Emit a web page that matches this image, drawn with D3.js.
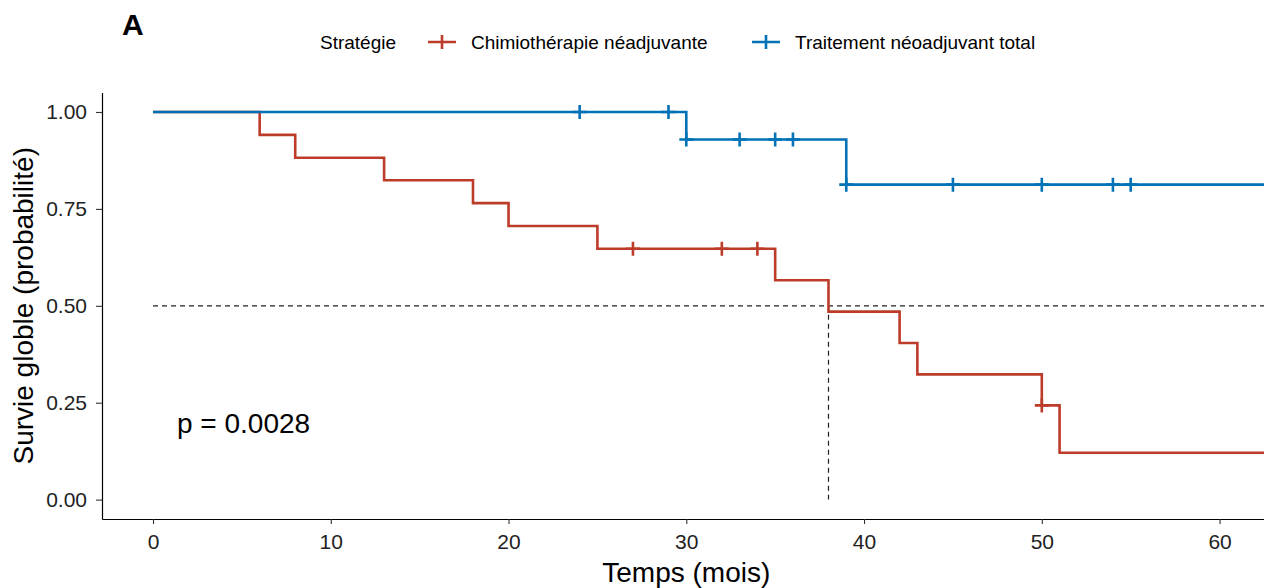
<!DOCTYPE html>
<html>
<head>
<meta charset="utf-8">
<script src="https://cdn.jsdelivr.net/npm/d3@7"></script>
<style>
  body { margin: 0; background: #fff; }
  svg { font-family: "Liberation Sans", Arial, sans-serif; }
</style>
</head>
<body>
<svg id="viz" width="1264" height="588"></svg>
<script>
// Kaplan-Meier steps
var chimioTime = [0, 6, 8, 13, 18, 20, 25, 35, 38, 42, 43, 50, 51, 64];
var chimioSurv = [1, 0.941, 0.882, 0.824, 0.765, 0.706, 0.647, 0.566, 0.485, 0.404, 0.323, 0.243, 0.121, 0.121];
var chimioCensTime = [27, 32, 34, 50];
var chimioCensSurv = [0.647, 0.647, 0.647, 0.243];

var totalTime = [0, 30, 39, 64];
var totalSurv = [1, 0.929, 0.8125, 0.8125];
var totalCensTime = [24, 29, 30, 33, 35, 36, 39, 45, 50, 54, 55];
var totalCensSurv = [1, 1, 0.929, 0.929, 0.929, 0.929, 0.8125, 0.8125, 0.8125, 0.8125, 0.8125];

var groups = ["Chimiothérapie néadjuvante", "Traitement néoadjuvant total"];
var colors = ["#BC3C29", "#0072B5"];
var xTicks = [0, 10, 20, 30, 40, 50, 60];
var yTicks = [0, 0.25, 0.5, 0.75, 1];
var medianTime = 38;
var pText = "p = 0.0028";

var svg = d3.select("#viz");

var x = d3.scaleLinear().domain([-2.87, 62.5]).range([102, 1264]);
var y = d3.scaleLinear().domain([-0.05, 1.05]).range([519, 92.6]);

// axes
var xAxis = svg.append("g")
    .attr("transform", "translate(0,519)")
    .call(d3.axisBottom(x).tickValues(xTicks).tickSize(5).tickPadding(10).tickSizeOuter(0));
var yAxis = svg.append("g")
    .attr("transform", "translate(102,0)")
    .call(d3.axisLeft(y).tickValues(yTicks).tickFormat(d3.format(".2f")).tickSize(6).tickPadding(9).tickSizeOuter(0));

[xAxis, yAxis].forEach(function(a) {
    a.select(".domain").attr("stroke", "#000").attr("stroke-width", 1.2);
    a.selectAll(".tick line").attr("stroke", "#333").attr("stroke-width", 1.1);
    a.selectAll(".tick text").attr("fill", "#222").style("font-size", "21px")
        .style("font-family", "Liberation Sans, Arial, sans-serif");
});

// median lines
svg.append("line")
    .attr("x1", x(0)).attr("x2", 1264)
    .attr("y1", y(0.5)).attr("y2", y(0.5))
    .attr("stroke", "#222").attr("stroke-width", 1.2).attr("stroke-dasharray", "5,4");
svg.append("line")
    .attr("x1", x(medianTime)).attr("x2", x(medianTime))
    .attr("y1", y(0.5)).attr("y2", y(0))
    .attr("stroke", "#222").attr("stroke-width", 1.2).attr("stroke-dasharray", "5,4");

// curves
var line = d3.line().curve(d3.curveStepAfter)
    .x(function(d) { return x(d[0]); })
    .y(function(d) { return y(d[1]); });

svg.append("clipPath").attr("id", "clip")
    .append("rect").attr("x", 102).attr("y", 80).attr("width", 1162).attr("height", 440);

var plot = svg.append("g").attr("clip-path", "url(#clip)");

var series = [
    { time: chimioTime, surv: chimioSurv, cT: chimioCensTime, cS: chimioCensSurv, color: colors[0] },
    { time: totalTime, surv: totalSurv, cT: totalCensTime, cS: totalCensSurv, color: colors[1] }
];

series.forEach(function(s) {
    var pts = s.time.map(function(t, i) { return [t, s.surv[i]]; });
    plot.append("path")
        .attr("d", line(pts))
        .attr("fill", "none")
        .attr("stroke", s.color)
        .attr("stroke-width", 2.6);
    s.cT.forEach(function(t, i) {
        var cx = x(t), cy = y(s.cS[i]);
        plot.append("path")
            .attr("d", "M" + (cx - 7) + "," + cy + "H" + (cx + 7) + "M" + cx + "," + (cy - 7) + "V" + (cy + 7))
            .attr("stroke", s.color).attr("stroke-width", 2.6);
    });
});

// p value
svg.append("text").attr("x", 177).attr("y", 433)
    .style("font-size", "28px").attr("fill", "#000").text(pText);

// axis titles
svg.append("text").attr("x", x(30)).attr("y", 582)
    .attr("text-anchor", "middle").style("font-size", "28px").attr("fill", "#000")
    .text("Temps (mois)");
svg.append("text")
    .attr("transform", "translate(33," + y(0.5) + ") rotate(-90)")
    .attr("text-anchor", "middle").style("font-size", "28px").attr("fill", "#000")
    .text("Survie globle (probabilité)");

// panel tag
svg.append("text").attr("x", 122).attr("y", 35)
    .style("font-size", "30px").style("font-weight", "bold").attr("fill", "#000").text("A");

// legend
var leg = svg.append("g").style("font-size", "19px");
leg.append("text").attr("x", 320).attr("y", 49).attr("fill", "#000").text("Stratégie");
var legX = [428, 752];
groups.forEach(function(g, i) {
    var cx = legX[i] + 14;
    leg.append("path")
        .attr("d", "M" + legX[i] + ",42H" + (legX[i] + 28) + "M" + cx + ",35V49")
        .attr("stroke", colors[i]).attr("stroke-width", 2.6);
    leg.append("text").attr("x", legX[i] + 43).attr("y", 49).attr("fill", "#000").text(g);
});
</script>
</body>
</html>
